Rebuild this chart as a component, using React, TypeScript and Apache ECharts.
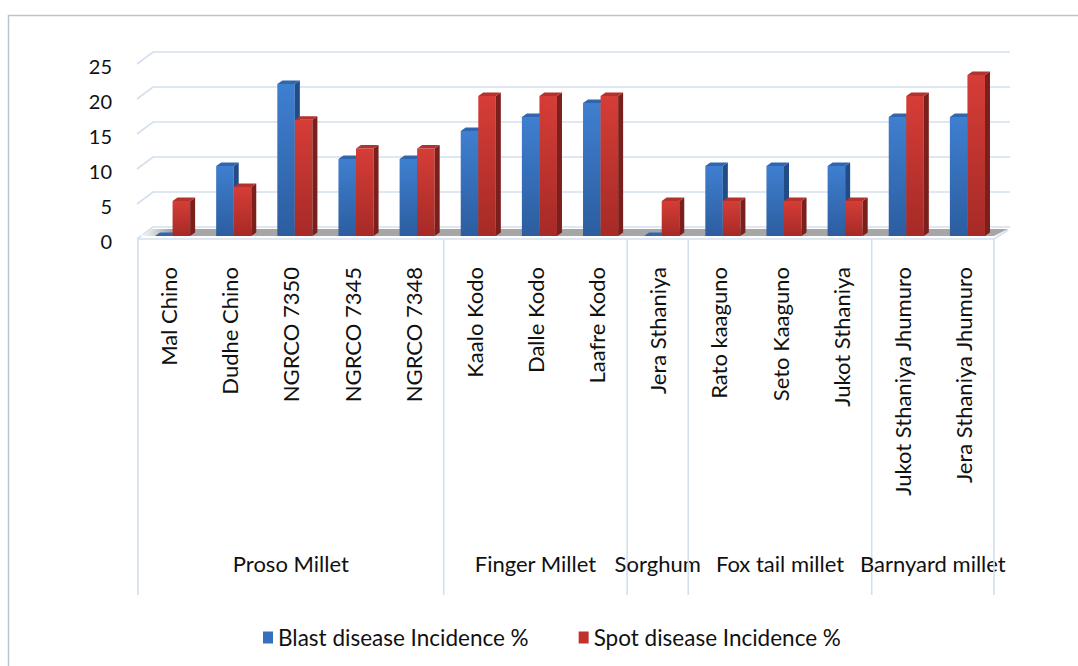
import React, { useEffect, useRef } from "react";
import * as echarts from "echarts";

const categories = [
  "Mal Chino", "Dudhe Chino", "NGRCO 7350", "NGRCO 7345", "NGRCO 7348",
  "Kaalo Kodo", "Dalle Kodo", "Laafre Kodo", "Jera Sthaniya", "Rato kaaguno",
  "Seto Kaaguno", "Jukot Sthaniya", "Jukot Sthaniya Jhumuro", "Jera Sthaniya Jhumuro",
];
const blast = [0, 10, 21.7, 11, 11, 15, 17, 19, 0, 10, 10, 10, 17, 17];
const spot = [5, 7, 16.6, 12.5, 12.5, 20, 20, 20, 5, 5, 5, 5, 20, 23];
const groups = ["Proso Millet", "Finger Millet", "Sorghum", "Fox tail millet", "Barnyard millet"];
const groupSizes = [5, 3, 1, 3, 2];
const yTicks = [0, 5, 10, 15, 20, 25];
const seriesNames = ["Blast disease Incidence %", "Spot disease Incidence %"];

const FONT = "Lato";
const TXT = 22;

function barRender(front: [string, string], side: string, top: string, idx: number) {
  return (params: any, api: any) => {
    const i = api.value(0);
    const v = api.value(1);
    const p = api.coord([i, v]);
    const p0 = api.coord([i, 0]);
    const bw = api.size([1, 0])[0];
    const w = bw * 0.287;
    const cx = p[0] + 4;
    const xL = idx === 0 ? cx - w : cx;
    const xR = xL + w;
    const yT = p[1] - 5;
    const yB = p0[1] - 5;
    const dx = 5;
    const dy = 3.5;
    return {
      type: "group",
      children: [
        {
          type: "rect",
          shape: { x: xL, y: yT, width: w, height: Math.max(0, yB - yT) },
          style: {
            fill: new echarts.graphic.LinearGradient(0, 0, 0, 1, [
              { offset: 0, color: front[0] },
              { offset: 1, color: front[1] },
            ]),
          },
        },
        {
          type: "polygon",
          shape: { points: [[xR, yT], [xR + dx, yT - dy], [xR + dx, yB - dy], [xR, yB]] },
          style: { fill: side },
        },
        {
          type: "polygon",
          shape: { points: [[xL, yT], [xL + dx, yT - dy], [xR + dx, yT - dy], [xR, yT]] },
          style: { fill: top },
        },
      ],
    };
  };
}

export default function App() {
  const ref = useRef<HTMLDivElement>(null);
  useEffect(() => {
    if (!ref.current) return;
    const chart = echarts.init(ref.current, undefined, { renderer: "svg" });
    const n = categories.length;
    const groupData: number[][] = [];
    let s = 0;
    groupSizes.forEach((g, k) => {
      groupData.push([s, s + g, k]);
      s += g;
    });

    const option: any = {
      animation: false,
      backgroundColor: "#ffffff",
      textStyle: { fontFamily: FONT },
      grid: { left: 138, width: 856, top: 66, height: 175 },
      graphic: [
        {
          type: "rect",
          shape: { x: 8.5, y: 15.5, width: 1200, height: 800 },
          style: { fill: "none", stroke: "#b9c4d1", lineWidth: 1.5 },
          silent: true,
        },
      ],
      legend: {
        left: 258,
        top: 621,
        itemWidth: 10,
        itemHeight: 12,
        itemGap: 50,
        icon: "rect",
        textStyle: { fontSize: 22.5, color: "#111", fontFamily: FONT },
        data: seriesNames,
      },
      xAxis: {
        type: "category",
        data: categories,
        axisLine: { show: false },
        axisTick: { show: false },
        splitLine: { show: false },
        axisLabel: {
          rotate: 90,
          margin: 26,
          interval: 0,
          fontSize: TXT,
          color: "#111",
          fontFamily: FONT,
        },
      },
      yAxis: {
        type: "value",
        min: 0,
        max: 25,
        interval: 5,
        axisLine: { show: false },
        axisTick: { show: false },
        splitLine: { show: false },
        axisLabel: { margin: 26, fontSize: 20, color: "#111", fontFamily: FONT },
      },
      series: [
        {
          type: "custom",
          name: "walls",
          silent: true,
          clip: false,
          z: 1,
          encode: { x: 0, y: 1 },
          data: yTicks.map((v) => [0, v]),
          renderItem: (params: any, api: any) => {
            const v = api.value(1);
            const bw = api.size([1, 0])[0];
            const p = api.coord([0, v]);
            const pr = api.coord([n - 1, v]);
            const x0 = p[0] - bw / 2;
            const x1 = pr[0] + bw / 2;
            const y = p[1];
            return {
              type: "polyline",
              shape: { points: [[x0 - 1, y - 2], [x0 + 15, y - 14], [x1 + 16, y - 14]] },
              style: { stroke: "#d3dfee", lineWidth: 1.6, fill: "none" },
            };
          },
        },
        {
          type: "custom",
          name: "floor",
          silent: true,
          clip: false,
          z: 2,
          encode: { x: 0, y: 1 },
          data: [[0, 0]],
          renderItem: (params: any, api: any) => {
            const bw = api.size([1, 0])[0];
            const p = api.coord([0, 0]);
            const pr = api.coord([n - 1, 0]);
            const x0 = p[0] - bw / 2;
            const x1 = pr[0] + bw / 2;
            const y0 = p[1];
            return {
              type: "group",
              children: [
                {
                  type: "polygon",
                  shape: {
                    points: [[x0 + 2, y0 - 5], [x1, y0 - 5], [x1 + 14, y0 - 12], [x0 + 15, y0 - 12]],
                  },
                  style: {
                    fill: new echarts.graphic.LinearGradient(0, 0, 1, 0, [
                      { offset: 0, color: "#ffffff" },
                      { offset: 0.035, color: "#a6a6a6" },
                      { offset: 1, color: "#a6a6a6" },
                    ]),
                  },
                },
                {
                  type: "polyline",
                  shape: { points: [[x0, y0 - 2], [x1, y0 - 2], [x1 + 14, y0 - 11]] },
                  style: { stroke: "#d3dfee", lineWidth: 1.6, fill: "none" },
                },
              ],
            };
          },
        },
        {
          type: "custom",
          name: "groups",
          silent: true,
          clip: false,
          z: 2,
          encode: { x: 0, y: 1 },
          data: groupData.map((g) => [g[0], 0, g[1], g[2]]),
          renderItem: (params: any, api: any) => {
            const a = api.value(0);
            const b = api.value(2);
            const k = api.value(3);
            const bw = api.size([1, 0])[0];
            const pa = api.coord([a, 0]);
            const xa = pa[0] - bw / 2;
            const xb = xa + (b - a) * bw;
            const y0 = pa[1];
            const children: any[] = [
              {
                type: "line",
                shape: { x1: xa, y1: y0 - 2, x2: xa, y2: y0 + 354 },
                style: { stroke: "#d3dfee", lineWidth: 1.6 },
              },
              {
                type: "text",
                style: {
                  text: groups[k],
                  x: (xa + xb) / 2,
                  y: y0 + 322,
                  align: "center",
                  verticalAlign: "middle",
                  fontSize: TXT,
                  fontFamily: FONT,
                  fill: "#111",
                },
              },
            ];
            if (k === groups.length - 1) {
              children.push({
                type: "line",
                shape: { x1: xb, y1: y0 - 2, x2: xb, y2: y0 + 354 },
                style: { stroke: "#d3dfee", lineWidth: 1.6 },
              });
            }
            return { type: "group", children };
          },
        },
        {
          type: "custom",
          name: seriesNames[0],
          clip: false,
          z: 5,
          encode: { x: 0, y: 1 },
          itemStyle: { color: "#3570bd" },
          data: blast.map((v, i) => [i, v]),
          renderItem: barRender(["#3f7fd0", "#2c5d9f"], "#224c85", "#2f66ad", 0),
        },
        {
          type: "custom",
          name: seriesNames[1],
          clip: false,
          z: 6,
          encode: { x: 0, y: 1 },
          itemStyle: { color: "#c0322d" },
          data: spot.map((v, i) => [i, v]),
          renderItem: barRender(["#d63d37", "#a62a26"], "#7b1f1c", "#b5312c", 1),
        },
      ],
    };
    chart.setOption(option);
    return () => chart.dispose();
  }, []);
  return (
    <div
      ref={ref}
      style={{ position: "fixed", left: 0, top: 0, width: 1078, height: 666 }}
    />
  );
}
